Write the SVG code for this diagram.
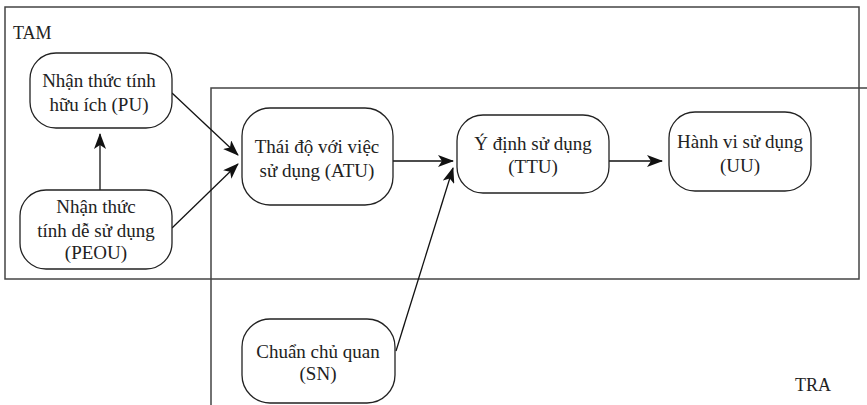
<svg xmlns="http://www.w3.org/2000/svg" width="867" height="405" viewBox="0 0 867 405">
<defs>
<style>
text{font-family:'Liberation Serif','Times New Roman',serif;font-size:19px;fill:#222;text-anchor:middle}
.lbl{font-size:18px;text-anchor:start}
.frame{fill:none;stroke:#444;stroke-width:1.5}
.node{fill:#fff;stroke:#222;stroke-width:1.3}
.edge{fill:none;stroke:#111;stroke-width:1.3;marker-end:url(#ah)}
</style>
<marker id="ah" viewBox="0 0 16 12" refX="15" refY="6" markerWidth="16" markerHeight="12" markerUnits="userSpaceOnUse" orient="auto">
<path d="M0,0 L16,6 L0,12 L4,6 Z" fill="#111"/>
</marker>
</defs>
<rect width="867" height="405" fill="#fff"/>
<g id="frames">
<rect class="frame" x="5" y="7" width="854" height="272"/>
<text class="lbl" x="13" y="39">TAM</text>
<path class="frame" d="M211,405 V88 H867"/>
<text class="lbl" x="795" y="391">TRA</text>
</g>
<g id="connectors">
<path class="edge" d="M172,93 L238,155"/>
<path class="edge" d="M172,228 L238,164"/>
<path class="edge" d="M100,190 L100,134"/>
<path class="edge" d="M393,161 L453,161"/>
<path class="edge" d="M396,351 L453,168"/>
<path class="edge" d="M609,161 L662,161"/>
</g>
<g id="PU">
<rect class="node" x="30" y="53" width="142" height="75" rx="26"/>
<text x="99" y="87">Nhận thức tính</text>
<text x="99" y="111">hữu ích (PU)</text>
</g>
<g id="PEOU">
<rect class="node" x="20" y="190" width="152" height="79" rx="26"/>
<text x="96" y="213">Nhận thức</text>
<text x="96" y="237">tính dễ sử dụng</text>
<text x="96" y="259">(PEOU)</text>
</g>
<g id="ATU">
<rect class="node" x="242" y="108" width="151" height="97" rx="28"/>
<text x="317" y="153">Thái độ với việc</text>
<text x="317" y="177">sử dụng (ATU)</text>
</g>
<g id="TTU">
<rect class="node" x="457" y="115" width="152" height="78" rx="26"/>
<text x="533" y="150">Ý định sử dụng</text>
<text x="533" y="173">(TTU)</text>
</g>
<g id="UU">
<rect class="node" x="669" y="112" width="142" height="79" rx="26"/>
<text x="740" y="148">Hành vi sử dụng</text>
<text x="740" y="172">(UU)</text>
</g>
<g id="SN">
<rect class="node" x="242" y="319" width="153" height="84" rx="28"/>
<text x="318" y="358">Chuẩn chủ quan</text>
<text x="318" y="380">(SN)</text>
</g>
</svg>
